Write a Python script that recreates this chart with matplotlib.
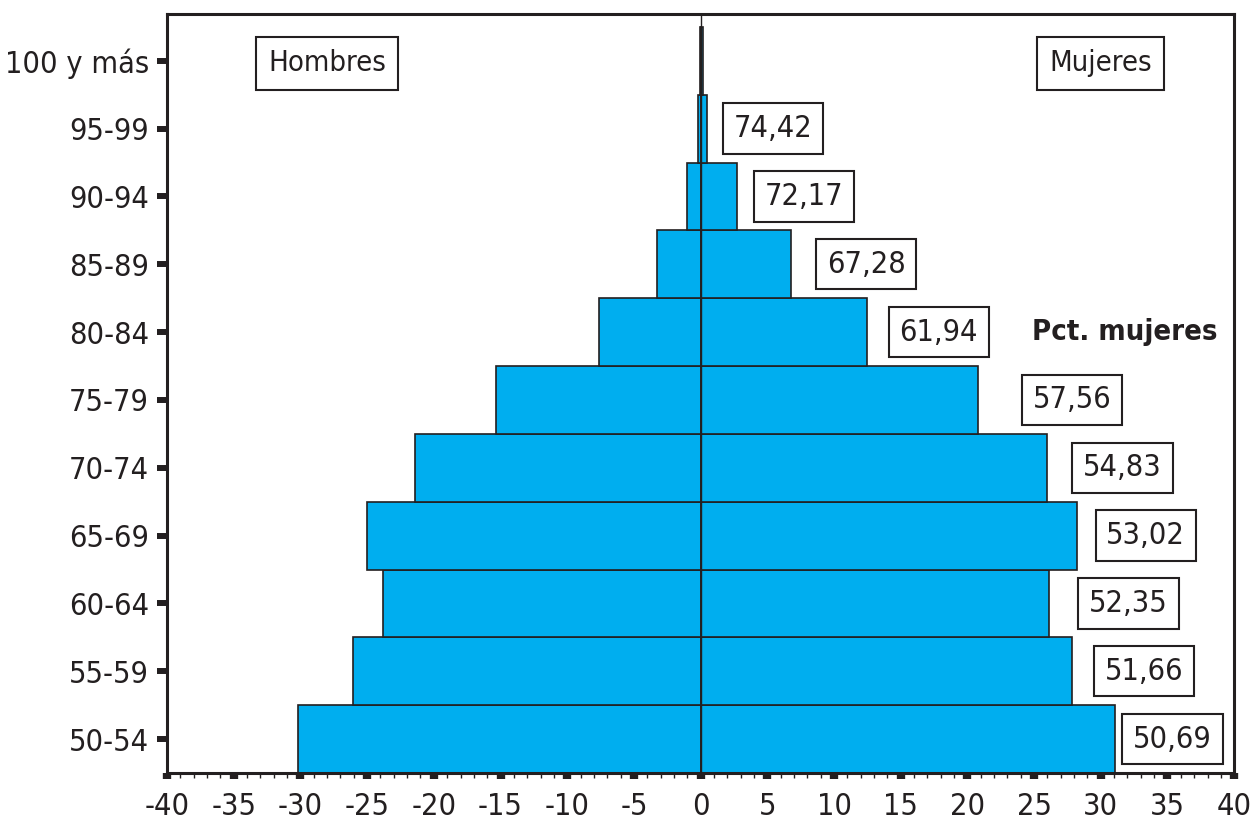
import matplotlib
matplotlib.use("Agg")
import matplotlib.pyplot as plt
from matplotlib.ticker import MultipleLocator, FixedLocator

plt.rcParams['font.family'] = ['DejaVu Sans']
plt.rcParams['font.stretch'] = 'condensed'

# Age groups, bottom to top
age_groups = ["50-54", "55-59", "60-64", "65-69", "70-74", "75-79",
              "80-84", "85-89", "90-94", "95-99", "100 y más"]
# Share of population (%) per age group
hombres = [30.2, 26.05, 23.8, 25.0, 21.4, 15.35, 7.65, 3.3, 1.04, 0.17, 0.05]
mujeres = [31.1, 27.85, 26.15, 28.2, 26.0, 20.8, 12.45, 6.8, 2.7, 0.5, 0.15]
# Percentage of women in each age group (no value for the last group)
pct_mujeres = [50.69, 51.66, 52.35, 53.02, 54.83, 57.56, 61.94, 67.28, 72.17, 74.42]
x_ticks = list(range(-40, 41, 5))

ink = "#231F20"
fill = "#00AEEF"
fs = 22

fig = plt.figure(figsize=(12.54, 8.22), dpi=100)
ax = fig.add_axes([0.1332, 0.0596, 0.851, 0.9234])

ypos = list(range(len(age_groups)))
ax.barh(ypos, [-h for h in hombres], height=1.0, color=fill, edgecolor=ink, linewidth=1.2)
ax.barh(ypos, mujeres, height=1.0, color=fill, edgecolor=ink, linewidth=1.2)
ax.axvline(0, color=ink, linewidth=1.0, zorder=3)

ax.set_xlim(-40, 40)
ax.set_ylim(-0.5, 10.69)

for s in ax.spines.values():
    s.set_linewidth(2.2)
    s.set_color(ink)

ax.xaxis.set_major_locator(FixedLocator(x_ticks))
ax.xaxis.set_minor_locator(MultipleLocator(1))
ax.set_xticklabels([str(v) for v in x_ticks])
ax.tick_params(axis='x', which='major', direction='out', length=4, width=6,
               color=ink, labelsize=fs, labelcolor=ink, pad=10)
ax.tick_params(axis='x', which='minor', direction='out', length=3.5, width=1.0, color=ink)

ax.set_yticks(ypos)
ax.set_yticklabels(age_groups)
ax.tick_params(axis='y', which='major', direction='out', length=7, width=4.3,
               color=ink, labelsize=fs, labelcolor=ink, pad=6)

box = dict(boxstyle='square,pad=0.35', facecolor='white', edgecolor=ink, linewidth=1.5)
side_box = dict(boxstyle='square,pad=0.42', facecolor='white', edgecolor=ink, linewidth=1.5)

# Label offsets from the end of the women's bar, in pixels
label_offsets = [57, 72, 79, 69, 75, 94, 72, 75, 67, 66]
for i, p in enumerate(pct_mujeres):
    ax.annotate(f"{p:.2f}".replace('.', ','), xy=(mujeres[i], i),
                xytext=(label_offsets[i], 0), textcoords='offset pixels',
                ha='center', va='center', fontsize=fs, color=ink, bbox=box)

ax.text(-28, 9.96, "Hombres", ha='center', va='center', fontsize=21, color=ink, bbox=side_box)
ax.text(30, 9.96, "Mujeres", ha='center', va='center', fontsize=21, color=ink, bbox=side_box)
ax.text(38.75, 6.0, "Pct. mujeres", ha='right', va='center', fontsize=21,
        fontweight='bold', color=ink)

fig.savefig("out.png", dpi=100)
